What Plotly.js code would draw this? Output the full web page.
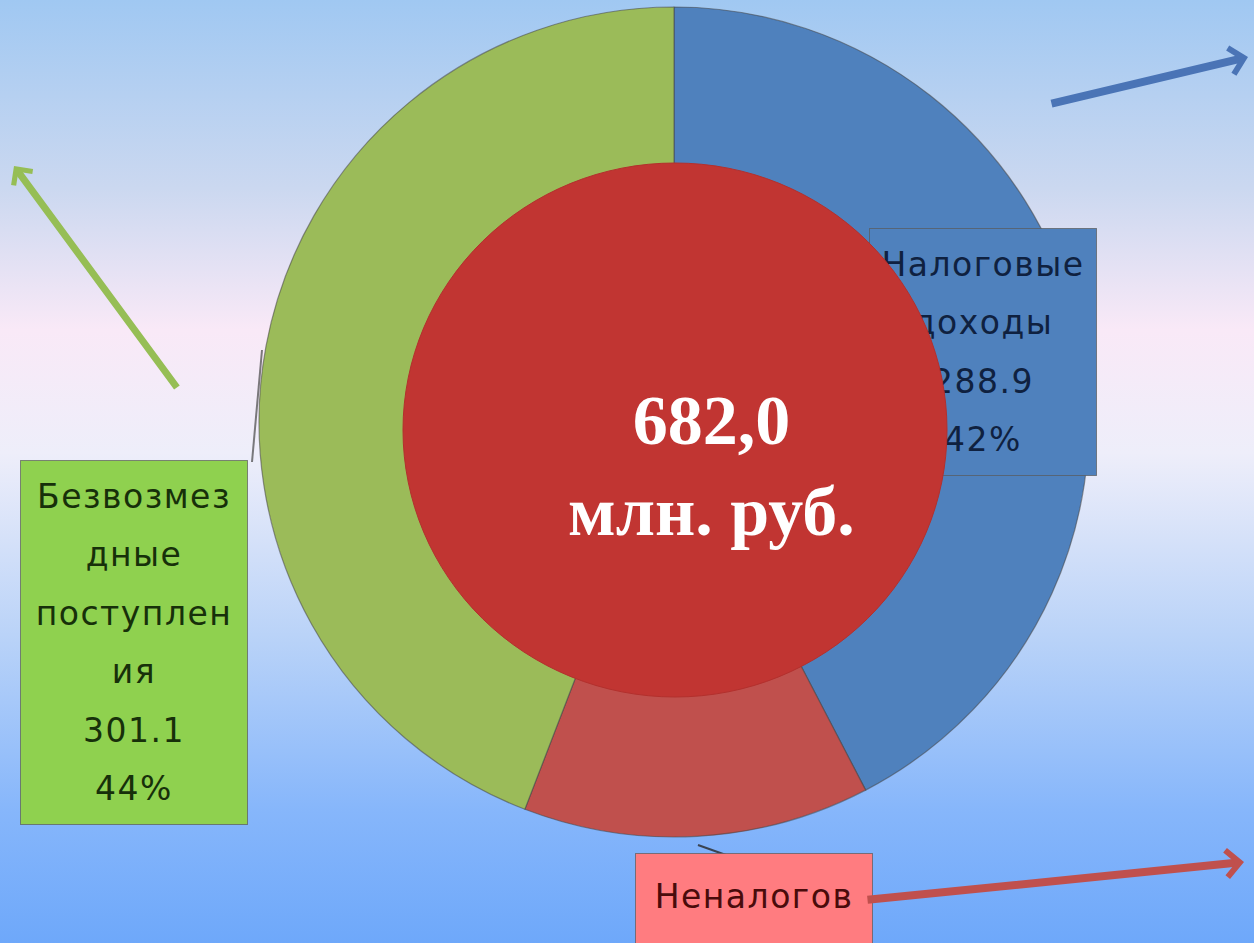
<!DOCTYPE html>
<html>
<head>
<meta charset="utf-8">
<script src="https://cdn.plot.ly/plotly-3.0.1.min.js"></script>
<style>
  html, body { margin:0; padding:0; width:1254px; height:943px; overflow:hidden; }
  body { background: linear-gradient(to bottom, #a0c8f2 0%, #cbd8f0 20%, #f9e9f7 35%, #eeeefa 48%, #b8d2f8 68%, #86b6fb 86%, #6ea8fa 100%); }
  .layer { position:absolute; left:0; top:0; width:1254px; height:943px; }
</style>
</head>
<body>
<div id="ring" class="layer"></div>
<div id="center" class="layer"></div>
<script>
// ---- data ----
const categories = ['Налоговые доходы', 'Неналоговые доходы', 'Безвозмездные поступления'];
const values = [288.9, 92.0, 301.1];
const wrappedLabels = ['Налоговые<br>доходы', 'Неналогов<br>ые доходы', 'Безвозмез<br>дные<br>поступлен<br>ия'];
const totalValue = 682.0;
const totalText = '682,0';
const unitText = 'млн. руб.';

// ---- styles ----
const W = 1254, H = 943;
const sliceColors = ['#4f81bd', '#c0504d', '#9bbb59'];
const boxColors = ['#4f81bd', '#ff7c80', '#8fd14f'];
const textColors = ['#0f2140', '#4a0b0b', '#17300a'];
// label boxes in pixel coords: left, top, width, height
const boxPos = [[869, 228, 228, 248], [635, 853, 238, 262], [20, 460, 228, 365]];
const px = x => x / W;
const py = y => 1 - y / H;

const sum = values.reduce((a, b) => a + b, 0);
function labelText(i) {
  const pct = Math.round(values[i] / sum * 100);
  const lines = wrappedLabels[i].split('<br>').concat([values[i].toFixed(1), pct + '%']);
  return lines.map(l => '<span style="font-size:33px;letter-spacing:1.5px">' + l + '</span>').join('<br>');
}

const pie = {
  type: 'pie',
  labels: categories,
  values: values,
  sort: false,
  direction: 'clockwise',
  rotation: 0,
  hole: 0.55,
  textinfo: 'none',
  hoverinfo: 'label+value+percent',
  marker: { colors: sliceColors, line: { color: 'rgba(70,70,70,0.55)', width: 1.2 } },
  domain: { x: [px(674 - 415), px(674 + 415)], y: [py(422 + 415), py(422 - 415)] },
  showlegend: false
};

const annotations = [];
for (let i = 0; i < categories.length; i++) {
  const b = boxPos[i];
  annotations.push({
    xref: 'paper', yref: 'paper',
    x: px(b[0]), y: py(b[1]), xanchor: 'left', yanchor: 'top',
    width: b[2] - 4, height: b[3] - 4,
    text: labelText(i), showarrow: false,
    align: 'center', valign: 'middle',
    bgcolor: boxColors[i], bordercolor: 'rgba(90,90,90,0.7)', borderwidth: 1, borderpad: 1,
    font: { family: 'DejaVu Sans, Open Sans, sans-serif', size: 45, color: textColors[i] }
  });
}
// arrows: [headX, headY, tailX, tailY, color, width]
const arrows = [[1248, 57, 1050, 104, '#4a74b6', 8], [14, 166, 178, 389, '#96be55', 7], [1244, 862, 866, 900, '#c0504d', 8]];
arrows.forEach(a => {
  annotations.push({
    xref: 'paper', yref: 'paper', x: px(a[0]), y: py(a[1]),
    ax: a[2] - a[0], ay: a[3] - a[1], text: '', showarrow: true,
    arrowhead: 4, arrowsize: 0.65, arrowwidth: a[5], arrowcolor: a[4], standoff: 0
  });
});

const ringLayout = {
  width: W, height: H, margin: { l: 0, r: 0, t: 0, b: 0 },
  paper_bgcolor: 'rgba(0,0,0,0)', plot_bgcolor: 'rgba(0,0,0,0)',
  showlegend: false,
  annotations: annotations,
  shapes: [
    { type: 'path', xref: 'paper', yref: 'paper', path: '', visible: false },
    { type: 'line', xref: 'paper', yref: 'paper', x0: px(252), y0: py(462), x1: px(262), y1: py(350), line: { color: 'rgba(70,70,70,0.7)', width: 2 } },
    { type: 'line', xref: 'paper', yref: 'paper', x0: px(698), y0: py(845), x1: px(726), y1: py(855), line: { color: 'rgba(40,40,40,0.8)', width: 2 } }
  ]
};
ringLayout.shapes.shift();
Plotly.newPlot('ring', [pie], ringLayout, { displayModeBar: false, staticPlot: true });

const centerLayout = {
  width: W, height: H, margin: { l: 0, r: 0, t: 0, b: 0 },
  paper_bgcolor: 'rgba(0,0,0,0)', plot_bgcolor: 'rgba(0,0,0,0)',
  xaxis: { visible: false }, yaxis: { visible: false },
  shapes: [
    { type: 'circle', xref: 'paper', yref: 'paper', x0: px(403), x1: px(947), y0: py(697), y1: py(163), fillcolor: '#c13532', line: { color: '#b3302d', width: 1 } }
  ],
  annotations: [{
    xref: 'paper', yref: 'paper', x: px(711), y: py(466), xanchor: 'center', yanchor: 'middle',
    text: '<b>' + totalText + '</b><br><b>' + unitText + '</b>', showarrow: false,
    font: { family: 'Liberation Serif, Times New Roman, serif', size: 70, color: '#ffffff' }
  }]
};
Plotly.newPlot('center', [], centerLayout, { displayModeBar: false, staticPlot: true });
</script>
</body>
</html>
